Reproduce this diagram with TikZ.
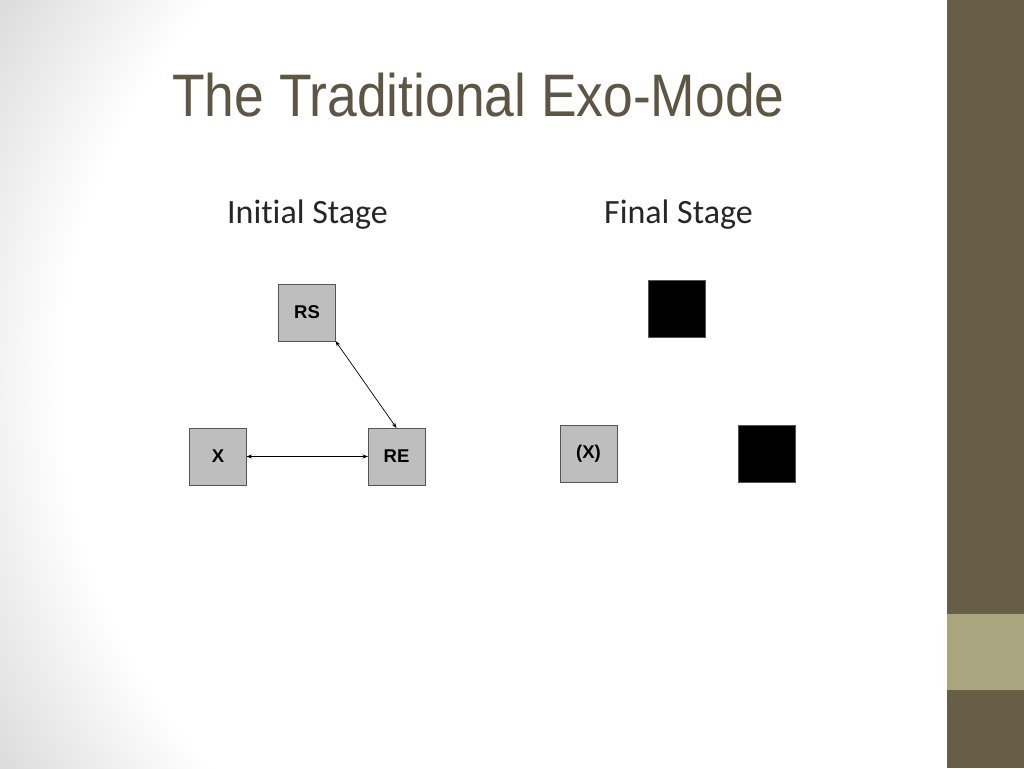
\documentclass[tikz,border=0pt]{standalone}
\usepackage{fontspec}
\setmainfont{Liberation Sans}
\newfontfamily\calib[Ligatures=NoCommon]{Carlito}
\usetikzlibrary{arrows.meta}
\definecolor{titlecol}{RGB}{94,86,68}
\definecolor{bardark}{RGB}{104,93,71}
\definecolor{barlight}{RGB}{168,165,127}
\definecolor{boxfill}{RGB}{190,190,190}
\definecolor{boxline}{RGB}{85,85,85}
\pgfdeclareradialshading{vignette}{\pgfpoint{0bp}{0bp}}{color(0bp)=(white); color(18.4bp)=(white); color(24bp)=(black!14); color(25bp)=(black!15); color(50bp)=(black!15)}
\tikzset{
  greybox/.style={draw=boxline, line width=0.8pt, fill=boxfill, minimum width=57pt, minimum height=57pt, inner sep=0pt, outer sep=0pt, font=\fontsize{18.5}{22}\selectfont\bfseries},
  blackbox/.style={draw=boxline, line width=0.8pt, fill=black, minimum width=57pt, minimum height=57pt, inner sep=0pt, outer sep=0pt},
  stagelabel/.style={font=\calib\fontsize{34}{38}\selectfont, text=black!85, anchor=base, inner sep=0pt},
  link/.style={line width=0.7pt, {Stealth[length=5.5pt,width=4pt]}-{Stealth[length=5.5pt,width=4pt]}}
}
\begin{document}
\begin{tikzpicture}[x=1pt,y=-1pt]
\useasboundingbox (0,0) rectangle (1024,768);
\begin{scope}
\clip (0,0) rectangle (947,768);
\shade[shading=vignette] (620,384) circle[radius=760];
\end{scope}
\fill[bardark] (947,0) rectangle (1024,768);
\fill[barlight] (947,614) rectangle (1024,690);
\node[anchor=base west, inner sep=0pt, text=titlecol, font=\fontsize{60}{66}\selectfont] (title) at (172,116) {\scalebox{0.89}[1]{The Traditional Exo-Mode}};
\node[stagelabel] (ini) at (307.5,223) {Initial Stage};
\node[stagelabel] (fin) at (678.5,223) {Final Stage};
\node[greybox] (rs) at (307,312.5) {RS};
\node[greybox] (x) at (218,456.5) {X};
\node[greybox] (re) at (396.5,456.5) {RE};
\node[blackbox] (b1) at (677,308.5) {};
\node[greybox] (xx) at (588.5,453.5) {(X)};
\node[blackbox] (b2) at (766.5,453.5) {};
\draw[link] (rs.south east) -- (re.north);
\draw[link] (x.east) -- (re.west);
\end{tikzpicture}
\end{document}
